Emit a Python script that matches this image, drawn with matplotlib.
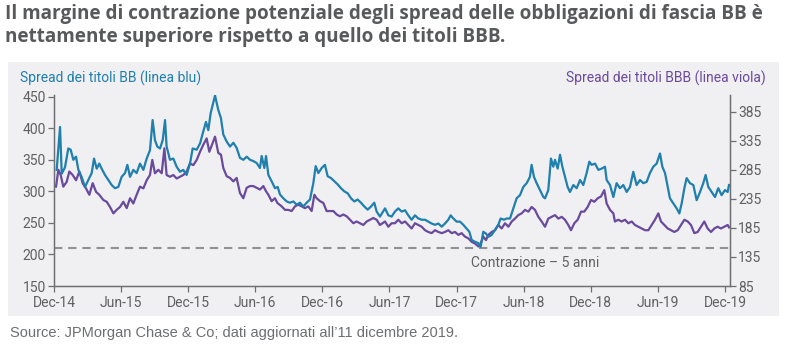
import matplotlib
matplotlib.use("Agg")
import matplotlib.pyplot as plt
from matplotlib.patches import Rectangle

# ---- data (time in months since Dec-2014) ----
bb_t = [0.24, 0.54, 0.69, 0.98, 1.28, 1.49, 1.73, 1.97, 2.18, 2.47, 2.77, 3.07, 3.37, 3.58, 3.82,
        4.05, 4.26, 4.56, 4.86, 5.16, 5.45, 5.75, 6.05, 6.35, 6.56, 6.80, 7.09, 7.39, 7.69, 7.99,
        8.29, 8.58, 8.82, 9.03, 9.24, 9.48, 9.72, 9.93, 10.07, 10.37, 10.67, 10.97, 11.27, 11.56,
        11.86, 12.16, 12.40, 12.76, 13.06, 13.35, 13.59, 13.80, 14.01, 14.40, 14.69, 14.93, 15.14,
        15.44, 15.74, 16.04, 16.33, 16.63, 16.93, 17.23, 17.53, 17.82, 18.12, 18.42, 18.57, 18.81,
        18.96, 19.17, 19.46, 19.76, 20.00, 20.21, 20.51, 20.81, 21.10, 21.40, 21.70, 22.00, 22.30,
        22.59, 22.89, 23.19, 23.40, 23.64, 23.94, 24.23, 24.47, 24.77, 25.07, 25.37, 25.66, 25.96,
        26.26, 26.56, 26.86, 27.15, 27.45, 27.75, 28.05, 28.35, 28.64, 28.85, 29.15, 29.60, 29.90,
        30.19, 30.49, 30.79, 31.09, 31.39, 31.68, 31.98, 32.28, 32.58, 32.88, 33.18, 33.47, 33.77,
        34.07, 34.37, 34.67, 34.96, 35.26, 35.47, 35.71, 36.01, 36.31, 36.60, 36.90, 37.14, 37.35,
        37.65, 37.95, 38.15, 38.39, 38.63, 38.84, 39.14, 39.44, 39.73, 39.94, 40.24, 40.48, 40.78,
        41.07, 41.37, 41.67, 41.97, 42.27, 42.56, 42.71, 42.92, 43.16, 43.46, 43.76, 43.91, 44.20,
        44.44, 44.65, 44.80, 45.04, 45.25, 45.46, 45.69, 45.93, 46.14, 46.44, 46.74, 47.04, 47.33,
        47.63, 47.87, 48.08, 48.38, 48.68, 48.97, 49.27, 49.42, 49.72, 50.02, 50.31, 50.61, 50.91,
        51.21, 51.51, 51.80, 52.10, 52.40, 52.70, 53.00, 53.29, 53.59, 53.89, 54.19, 54.40, 54.64,
        54.88, 55.08, 55.38, 55.68, 55.92, 56.13, 56.37, 56.57, 56.87, 57.17, 57.47, 57.77, 58.06,
        58.27, 58.51, 58.81, 59.11, 59.40, 59.70, 60.00, 60.24, 60.36]
bb_spread = [334, 402, 328, 338, 368, 366, 350, 355, 334, 323, 307, 318, 329, 352, 336,
             344, 336, 326, 318, 310, 305, 307, 323, 329, 342, 323, 334, 329, 344, 334,
             352, 365, 413, 381, 371, 368, 381, 413, 371, 350, 352, 339, 331, 334,
             326, 344, 368, 366, 376, 395, 410, 397, 424, 452, 429, 416, 390,
             379, 371, 377, 369, 353, 350, 355, 350, 348, 345, 337, 356, 337,
             356, 326, 316, 305, 307, 295, 289, 284, 282, 284, 279, 282, 276,
             282, 287, 313, 340, 329, 337, 342, 324, 321, 316, 311, 305, 300,
             297, 289, 284, 287, 282, 276, 271, 276, 282, 268, 260, 273, 262,
             260, 268, 273, 268, 270, 262, 255, 262, 257, 255, 255, 252, 249,
             247, 249, 244, 249, 255, 262, 257, 252, 252, 247, 241, 236, 223,
             220, 218, 212, 236, 233, 228, 231, 239, 247, 257, 255, 257, 257,
             273, 289, 294, 307, 313, 323, 342, 323, 313, 302, 291, 289, 302,
             352, 339, 350, 336, 358, 339, 323, 307, 299, 310, 305, 318, 310,
             329, 347, 342, 344, 334, 336, 339, 318, 310, 291, 313, 305, 310,
             299, 307, 331, 310, 318, 313, 315, 329, 339, 344, 360, 339, 329,
             307, 289, 281, 273, 265, 281, 305, 321, 313, 310, 286, 299, 313,
             326, 307, 299, 291, 305, 294, 302, 299, 310]

bbb_t = [0.18, 0.39, 0.60, 0.83, 1.13, 1.37, 1.67, 1.97, 2.27, 2.56, 2.86, 3.16, 3.46, 3.76, 4.05,
         4.41, 4.71, 5.01, 5.31, 5.60, 5.90, 6.20, 6.50, 6.80, 7.09, 7.39, 7.69, 7.99, 8.29, 8.58,
         8.79, 9.03, 9.33, 9.63, 9.87, 10.07, 10.37, 10.67, 10.97, 11.27, 11.56, 11.86, 12.16,
         12.46, 12.76, 13.06, 13.35, 13.65, 13.89, 14.19, 14.40, 14.69, 14.93, 15.14, 15.44, 15.74,
         16.04, 16.33, 16.63, 16.93, 17.23, 17.53, 17.82, 18.12, 18.42, 18.72, 18.96, 19.17, 19.46,
         19.76, 19.97, 20.36, 20.66, 20.95, 21.25, 21.55, 21.85, 22.15, 22.44, 22.74, 23.04, 23.28,
         23.49, 23.79, 24.08, 24.38, 24.68, 24.98, 25.28, 25.57, 25.87, 26.17, 26.47, 26.77, 27.06,
         27.36, 27.66, 27.96, 28.26, 28.55, 28.85, 29.15, 29.60, 29.90, 30.19, 30.49, 30.79, 31.09,
         31.39, 31.68, 31.98, 32.28, 32.58, 32.88, 33.18, 33.47, 33.77, 34.07, 34.37, 34.67, 34.96,
         35.26, 35.56, 35.86, 36.16, 36.45, 36.75, 37.05, 37.35, 37.65, 37.95, 38.09, 38.39, 38.63,
         38.84, 39.14, 39.44, 39.73, 40.03, 40.33, 40.63, 40.93, 41.22, 41.52, 41.82, 42.12, 42.42,
         42.71, 43.01, 43.31, 43.61, 43.91, 44.20, 44.50, 44.80, 45.10, 45.40, 45.69, 45.99, 46.23,
         46.53, 46.83, 47.13, 47.42, 47.72, 48.02, 48.32, 48.62, 48.91, 49.21, 49.42, 49.72, 50.02,
         50.16, 50.46, 50.76, 51.06, 51.36, 51.66, 51.95, 52.25, 52.55, 52.85, 53.15, 53.44, 53.74,
         54.04, 54.28, 54.58, 54.88, 55.18, 55.47, 55.77, 56.07, 56.37, 56.67, 56.96, 57.26, 57.56,
         57.86, 58.15, 58.45, 58.75, 59.05, 59.34, 59.64, 59.94, 60.24, 60.36]
bbb_spread = [256, 285, 276, 256, 264, 282, 276, 267, 282, 262, 253, 242, 262, 247, 242,
              233, 230, 221, 210, 216, 221, 230, 219, 236, 227, 242, 256, 253, 267, 276,
              302, 279, 285, 279, 322, 276, 273, 276, 270, 273, 276, 282, 296,
              293, 302, 316, 328, 339, 316, 331, 342, 314, 311, 288, 274, 271,
              265, 271, 245, 236, 254, 257, 257, 254, 251, 257, 248, 242, 231,
              236, 228, 222, 216, 216, 214, 222, 225, 222, 219, 222, 214, 242,
              236, 231, 228, 214, 214, 214, 208, 205, 208, 205, 199, 193, 196,
              193, 190, 196, 199, 202, 199, 190, 196, 187, 193, 193, 199, 193,
              196, 190, 184, 193, 190, 187, 181, 178, 176, 181, 178, 176, 178,
              181, 176, 178, 173, 176, 170, 167, 161, 158, 153, 155, 170, 164,
              173, 178, 181, 190, 184, 193, 187, 196, 201, 207, 210, 216, 213,
              221, 216, 204, 196, 187, 201, 204, 207, 201, 204, 199, 190, 181,
              193, 199, 213, 213, 221, 233, 230, 236, 239, 250, 227, 216, 210,
              196, 199, 196, 199, 193, 196, 190, 187, 184, 181, 181, 190, 199,
              210, 196, 190, 184, 181, 178, 181, 190, 199, 196, 190, 176, 178,
              187, 196, 184, 178, 184, 187, 184, 187, 190, 186]

x_ticks = [0, 6, 12, 18, 24, 30, 36, 42, 48, 54, 60]
x_labels = ["Dec-14", "Jun-15", "Dec-15", "Jun-16", "Dec-16", "Jun-17", "Dec-17",
            "Jun-18", "Dec-18", "Jun-19", "Dec-19"]
left_ticks = [150, 200, 250, 300, 350, 400, 450]
right_ticks = [85, 135, 185, 235, 285, 335, 385]
contraction_level = 211  # left-axis value of the dashed line

title = ("Il margine di contrazione potenziale degli spread delle obbligazioni di fascia BB è\n"
         "nettamente superiore rispetto a quello dei titoli BBB.")
left_title = "Spread dei titoli BB (linea blu)"
right_title = "Spread dei titoli BBB (linea viola)"
dash_label = "Contrazione – 5 anni"
source = "Source: JPMorgan Chase & Co; dati aggiornati all\u201911 dicembre 2019."

# ---- style ----
W, H = 785, 352
BLUE = "#1f7fad"
PURPLE = "#6a4a9c"
GRAY_TXT = "#5f6062"
AX_GRAY = "#6d6e71"
PANEL = "#f0eff2"
NARROW = ["Roboto", "DejaVu Sans"]

fig = plt.figure(figsize=(W / 100, H / 100), dpi=100)
fig.patch.set_facecolor("white")

def fx(px):
    return px / W

def fy(py):
    return 1 - py / H

fig.patches.append(Rectangle((fx(8), fy(316)), fx(779) - fx(8), fy(62) - fy(316),
                             transform=fig.transFigure, facecolor=PANEL, edgecolor="none",
                             zorder=-10))

ax = fig.add_axes([fx(54), fy(286), fx(730) - fx(54), fy(95) - fy(286)])
ax.set_facecolor("none")
ax2 = ax.twinx()
ax2.set_facecolor("none")
ax.set_zorder(2)
ax2.set_zorder(1)

ax.plot(bb_t, bb_spread, color=BLUE, lw=1.6, zorder=3)
ax2.plot(bbb_t, bbb_spread, color=PURPLE, lw=1.6, zorder=2)
ax.axhline(contraction_level, color="#909193", lw=1.5, dashes=(4, 2.8), zorder=1)

ax.set_xlim(0, 60.45)
ax.set_ylim(150, 452.7)
ax2.set_ylim(85, 413.7)

ax.set_xticks(x_ticks)
ax.set_xticklabels(x_labels)
ax.set_yticks(left_ticks)
ax2.set_yticks(right_ticks)

for a in (ax, ax2):
    for s in a.spines.values():
        s.set_color(AX_GRAY)
        s.set_linewidth(0.9)
    a.spines["top"].set_visible(False)
    a.tick_params(colors=AX_GRAY, width=0.9, length=4)
    for lab in a.get_xticklabels() + a.get_yticklabels():
        lab.set_family(NARROW)
        lab.set_fontsize(10)
        lab.set_color(GRAY_TXT)
ax.tick_params(axis="x", pad=3)
ax.tick_params(axis="y", pad=2)
ax2.tick_params(axis="y", pad=2)

fig.text(fx(5), fy(4), title, ha="left", va="top", fontsize=13.6, fontweight="bold",
         color="#58595b", family=["Open Sans", "DejaVu Sans"], linespacing=1.2)
fig.text(fx(20), fy(78), left_title, ha="left", va="center", fontsize=10, color=BLUE,
         family=NARROW)
fig.text(fx(766), fy(78), right_title, ha="right", va="center", fontsize=10, color=PURPLE,
         family=NARROW)
ax.text(43, 186.5, dash_label, ha="center", va="center", fontsize=10,
        color=GRAY_TXT, family=NARROW)
fig.text(fx(10), fy(333), source, ha="left", va="center", fontsize=10.5, color="#6d6e71",
         family=["Liberation Sans", "DejaVu Sans"])

fig.savefig("out.png", dpi=100, facecolor="white")
